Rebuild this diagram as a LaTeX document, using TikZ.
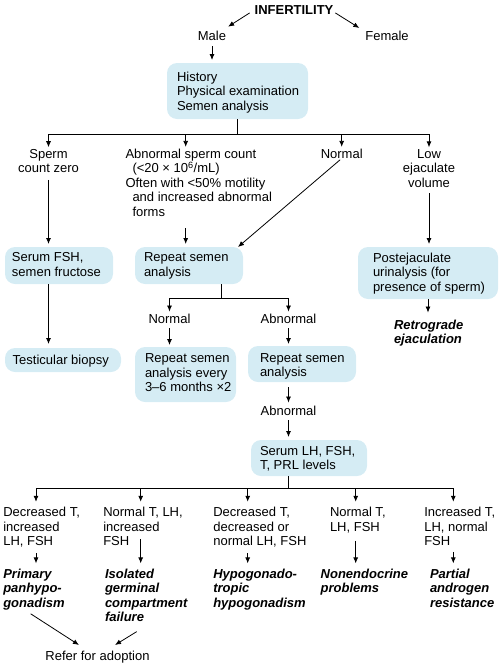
\documentclass[tikz,border=0pt]{standalone}
\usepackage{fontspec}
\setmainfont{Liberation Sans}
\usetikzlibrary{arrows.meta,calc}
\definecolor{boxblue}{RGB}{213,236,244}
\begin{document}
\begin{tikzpicture}[x=1pt,y=-1pt,
  every node/.style={inner sep=0pt, outer sep=0pt},
  txt/.style={font=\fontsize{13}{14.5}\selectfont, align=left, anchor=base west},
  ctxt/.style={font=\fontsize{13}{14.5}\selectfont, align=center, anchor=base},
  res/.style={font=\fontsize{13}{14.5}\selectfont\bfseries\itshape, align=left, anchor=base west},
  box/.style={fill=boxblue, rounded corners=10pt},
  line/.style={line width=0.8pt},
  arr/.style={line width=0.8pt, -{Latex[length=6pt,width=5pt]}}
]
\useasboundingbox (0,0) rectangle (503,667);

% top
\node[ctxt, font=\fontsize{13}{14.5}\selectfont\bfseries] (inf) at (294,14) {INFERTILITY};
\node[ctxt] (male) at (212,40.7) {Male};
\node[ctxt] (female) at (387,40.7) {Female};
\node[box, minimum width=141pt, minimum height=56pt] (hist) at (237.5,91) {};
\node[txt] (histt) at (177,110) {History\\Physical examination\\Semen analysis};

% row 2
\node[ctxt] (sz) at (48.5,172.8) {Sperm\\count zero};
\node[txt] (ab) at (125.5,216.3) {Abnormal sperm count\\\hspace*{7pt}(<20 × 10\textsuperscript{6}/mL)\\Often with <50\% motility\\\hspace*{7pt}and increased abnormal\\\hspace*{7pt}forms};
\node[ctxt] (nm) at (341.7,158.3) {Normal};
\node[ctxt] (low) at (429,187.3) {Low\\ejaculate\\volume};

% row 3 boxes
\node[box, minimum width=108pt, minimum height=37pt] (fsh) at (59,265.5) {};
\node[txt] (fsht) at (12,276.2) {Serum FSH,\\semen fructose};
\node[box, minimum width=108pt, minimum height=37pt] (rep1) at (189,265.5) {};
\node[txt] (rep1t) at (144,276.2) {Repeat semen\\analysis};
\node[box, minimum width=140pt, minimum height=52pt] (post) at (428,273) {};
\node[txt] (postt) at (373,291) {Postejaculate\\urinalysis (for\\presence of sperm)};

% row 4
\node[box, minimum width=116pt, minimum height=24pt] (biop) at (63,360) {};
\node[txt] (biopt) at (12.7,364) {Testicular biopsy};
\node[ctxt] (n2) at (169.5,323) {Normal};
\node[ctxt] (a2) at (288.5,323) {Abnormal};
\node[res] (retro) at (394,343.5) {Retrograde\\ejaculation};
\node[box, minimum width=101pt, minimum height=55pt] (rep2) at (185.5,374.5) {};
\node[txt] (rep2t) at (145,391.7) {Repeat semen\\analysis every\\3–6 months ×2};
\node[box, minimum width=108pt, minimum height=36pt] (rep3) at (302,364) {};
\node[txt] (rep3t) at (260,376.5) {Repeat semen\\analysis};
\node[ctxt] (a3) at (288.5,415) {Abnormal};
\node[box, minimum width=116pt, minimum height=36pt] (lh) at (309,458) {};
\node[txt] (lht) at (260,469.5) {Serum LH, FSH,\\T, PRL levels};

% columns
\node[txt] (c1) at (3.3,545.7) {Decreased T,\\increased\\LH, FSH};
\node[txt] (c2) at (103.3,545.7) {Normal T, LH,\\increased\\FSH};
\node[txt] (c3) at (213.3,545.7) {Decreased T,\\decreased or\\normal LH, FSH};
\node[txt] (c4) at (330,531.2) {Normal T,\\LH, FSH};
\node[txt] (c5) at (424.3,545.7) {Increased T,\\LH, normal\\FSH};

\node[res] (r1) at (3.3,607.3) {Primary\\panhypo-\\gonadism};
\node[res] (r2) at (105,621.8) {Isolated\\germinal\\compartment\\failure};
\node[res] (r3) at (213.3,607.3) {Hypogonado-\\tropic\\hypogonadism};
\node[res] (r4) at (320.7,592.8) {Nonendocrine\\problems};
\node[res] (r5) at (430,607.3) {Partial\\androgen\\resistance};
\node[ctxt] (adopt) at (97.5,660) {Refer for adoption};

% connectors top
\draw[arr] ([shift={(-5pt,-3.4pt)}]inf.west) -- ([shift={(2pt,4.6pt)}]male.north east);
\draw[arr] ([shift={(2pt,-3.4pt)}]inf.east) -- ([shift={(-6pt,3.3pt)}]female.north west);
\draw[arr, shorten <=5.3pt, shorten >=3pt] (male.south) -- (male.south |- hist.north);

% hist to row 2
\draw[line] (hist.south) -- ++(0,15) coordinate (j1);
\coordinate (abx) at ([xshift=60.2pt]ab.north west);
\draw[line] (sz.north |- j1) -- (low.north |- j1);
\draw[arr, shorten >=2pt] (sz.north |- j1) -- (sz.north);
\draw[arr, shorten >=2pt] (abx |- j1) -- (abx);
\draw[arr, shorten >=2pt] (nm.north |- j1) -- (nm.north);
\draw[arr, shorten >=2pt] (low.north |- j1) -- (low.north);

% row 2 to boxes
\draw[arr, shorten <=7pt, shorten >=3pt] (sz.south) -- (sz.south |- fsh.north);
\draw[arr, shorten <=12pt, shorten >=3pt] (abx |- ab.south) -- (abx |- rep1.north);
\draw[arr, shorten <=2pt] (nm.south) -- ([xshift=-5pt]rep1.north east);
\draw[arr, shorten <=6pt, shorten >=3pt] (low.south) -- (low.south |- post.north);

% row 3 onwards
\draw[arr, shorten >=4pt] (sz.south |- fsh.south) -- (sz.south |- biop.north);
\draw[line] ([xshift=32.7pt]rep1.south) -- ++(0,14) coordinate (j2);
\draw[line] (n2.north |- j2) -- (a2.north |- j2);
\draw[arr, shorten >=2pt] (n2.north |- j2) -- (n2.north);
\draw[arr, shorten >=2pt] (a2.north |- j2) -- (a2.north);
\draw[arr, shorten <=5pt, shorten >=2pt] (n2.south) -- (n2.south |- rep2.north);
\draw[arr, shorten <=5pt, shorten >=2pt] (a2.south) -- (a2.south |- rep3.north);
\draw[arr, shorten <=5pt, shorten >=3pt] (a2.south |- rep3.south) -- (a3.north);
\draw[arr, shorten <=5pt, shorten >=3pt] (a3.south) -- (a3.south |- lh.north);
\draw[arr, shorten >=7pt] (post.south) -- (post.south |- retro.north);

% lh to columns
\draw[line] ([xshift=-20.7pt]lh.south) -- ++(0,12) coordinate (j3);
\coordinate (k1) at ([xshift=32.7pt]c1.north west);
\coordinate (k2) at ([xshift=37.4pt]c2.north west);
\coordinate (k3) at ([xshift=34.4pt]c3.north west);
\coordinate (k4) at ([xshift=25.7pt]c4.north west);
\coordinate (k5) at ([xshift=29pt]c5.north west);
\draw[line] (k1 |- j3) -- (k5 |- j3);
\foreach \k in {k1,k2,k3,k4,k5}
  \draw[arr, shorten >=5.5pt] (\k |- j3) -- (\k);

\draw[arr, shorten <=6pt, shorten >=5.5pt] (k1 |- c1.south) -- (k1 |- r1.north);
\draw[arr, shorten <=-6.5pt, shorten >=5.5pt] (k2 |- c2.south) -- (k2 |- r2.north);
\draw[arr, shorten <=6pt, shorten >=5.5pt] (k3 |- c3.south) -- (k3 |- r3.north);
\draw[arr, shorten <=8pt, shorten >=5.5pt] (k4 |- c4.south) -- (k4 |- r4.north);
\draw[arr, shorten <=6pt, shorten >=5.5pt] (k5 |- c5.south) -- (k5 |- r5.north);

\draw[arr] ([shift={(27.4pt,-3.8pt)}]r1.south west) -- ([shift={(-18.5pt,5.6pt)}]adopt.north);
\draw[arr] ([shift={(31.7pt,-9.7pt)}]r2.south west) -- ([shift={(17.5pt,5.6pt)}]adopt.north);
\end{tikzpicture}
\end{document}
